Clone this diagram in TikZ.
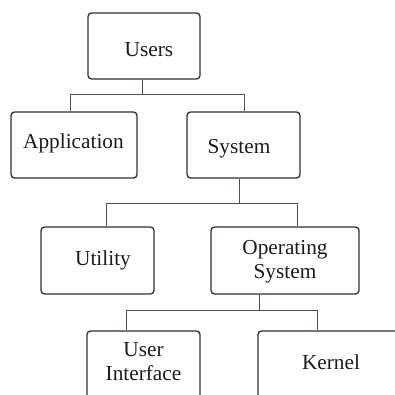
\documentclass[tikz,border=0pt]{standalone}
\usepackage{fontspec}
\setmainfont{Liberation Serif}
\begin{document}
\begin{tikzpicture}[x=1pt,y=-1pt,
  box/.style={draw=boxcol, line width=1.3pt, rounded corners=3.5pt, inner sep=0pt},
  link/.style={draw=linkcol, line width=1pt},
  lbl/.style={font=\fontsize{21.3}{24}\selectfont, text=textcol, inner sep=0pt, anchor=base, align=center}]
\definecolor{boxcol}{HTML}{3A2B2E}
\definecolor{linkcol}{HTML}{5A4A4C}
\definecolor{textcol}{HTML}{1E1A1A}
\useasboundingbox (0,0) rectangle (395,394);
\clip (0,0) rectangle (395,394);
% boxes
\node[box, minimum width=112pt, minimum height=66pt] (users) at (144,46) {};
\node[box, minimum width=126pt, minimum height=66pt] (app) at (74,145) {};
\node[box, minimum width=113pt, minimum height=66pt] (sys) at (243.5,145) {};
\node[box, minimum width=113pt, minimum height=67pt] (util) at (97.5,260.5) {};
\node[box, minimum width=148pt, minimum height=67pt] (os) at (285,260.5) {};
\node[box, minimum width=113pt, minimum height=70pt] (ui) at (143.5,366) {};
\node[box, minimum width=160pt, minimum height=70pt] (kern) at (338,366) {};
% labels
\node[lbl] (tusers) at (149,56) {Users};
\node[lbl] (tapp) at (73.5,148) {Application};
\node[lbl] (tsys) at (239,153) {System};
\node[lbl] (tutil) at (103,265) {Utility};
\node[lbl] (tos) at (285,278) {Operating\\System};
\node[lbl] (tui) at (143.5,380) {User\\Interface};
\node[lbl] (tkern) at (331,369) {Kernel};
% junctions
\coordinate (j1) at (142,94);
\coordinate (a1) at (70,94);
\coordinate (a2) at (244,94);
\coordinate (j2) at (239,203);
\coordinate (b1) at (106,203);
\coordinate (b2) at (297,203);
\coordinate (j3) at (259,310);
\coordinate (c1) at (126,310);
\coordinate (c2) at (317,310);
% connectors
\draw[link] (users.south -| j1) -- (j1);
\draw[link] (app.north -| a1) -- (a1) -- (a2) -- (sys.north -| a2);
\draw[link] (sys.south -| j2) -- (j2);
\draw[link] (util.north -| b1) -- (b1) -- (b2) -- (os.north -| b2);
\draw[link] (os.south -| j3) -- (j3);
\draw[link] (ui.north -| c1) -- (c1) -- (c2) -- (kern.north -| c2);
\end{tikzpicture}
\end{document}
